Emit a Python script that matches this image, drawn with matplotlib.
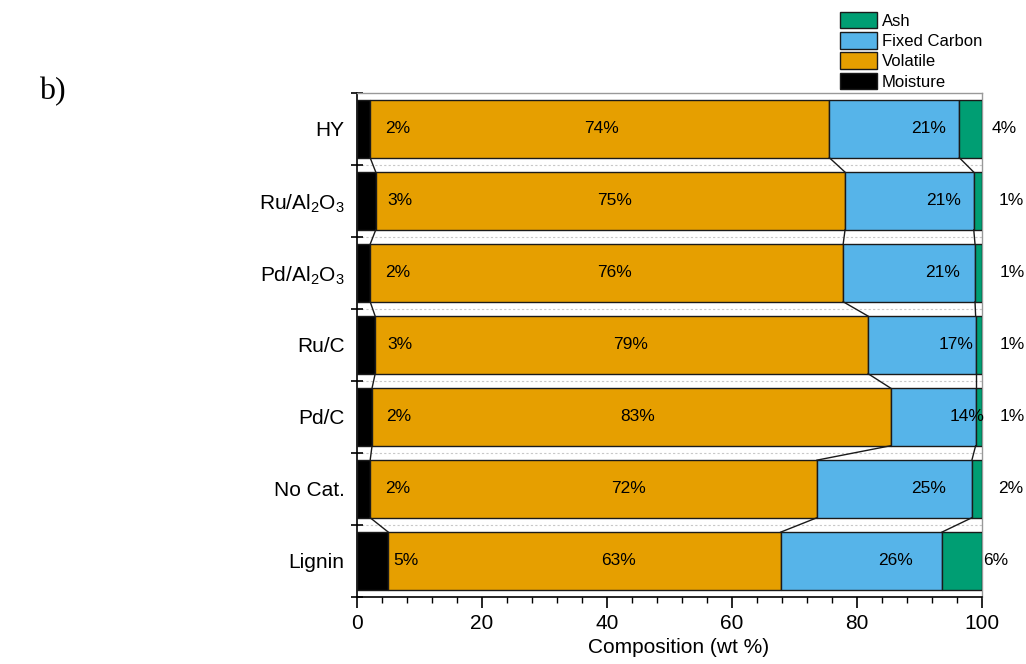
import matplotlib
matplotlib.use("Agg")
import matplotlib.pyplot as plt
import numpy as np
from matplotlib.patches import Patch

plt.rcParams['font.family'] = ['Liberation Sans', 'DejaVu Sans']

# Proximate analysis of the samples (wt %), top row first
samples = ['HY', 'Ru/Al$_\\mathregular{2}$O$_\\mathregular{3}$',
           'Pd/Al$_\\mathregular{2}$O$_\\mathregular{3}$', 'Ru/C', 'Pd/C',
           'No Cat.', 'Lignin']
moisture = [2.1, 3.0, 2.1, 2.9, 2.4, 2.1, 5.0]
volatile = [73.5, 75.1, 75.7, 78.9, 83.0, 71.5, 62.8]
fixed_carbon = [20.8, 20.6, 21.1, 17.2, 13.6, 24.8, 25.8]
ash = [3.6, 1.3, 1.1, 1.0, 1.0, 1.6, 6.4]

components = ['Moisture', 'Volatile', 'Fixed Carbon', 'Ash']
colors = ['#000000', '#E69F00', '#56B4E9', '#009E73']

# horizontal shift of the percentage labels (in wt % units)
label_shift = 5.4
vol_label_shift = [0.2, 0.6, 1.2, 1.4, 1.0, 5.6, 5.5]

data = np.array([moisture, volatile, fixed_carbon, ash])
n = len(samples)
ypos = np.arange(n)[::-1]  # HY at top
bar_h = 0.8

fig = plt.figure(figsize=(10.26, 6.64), dpi=100)
ax = fig.add_axes([0.348, 0.101, 0.609, 0.759])

left = np.zeros(n)
bounds = []
for k in range(4):
    ax.barh(ypos, data[k], left=left, height=bar_h, color=colors[k],
            edgecolor='#1a1a1a', linewidth=1.0, zorder=3)
    for i in range(n):
        if k == 1:
            xc = left[i] + data[k][i] / 2 + vol_label_shift[i]
        else:
            xc = left[i] + data[k][i] / 2 + label_shift
        ax.text(xc, ypos[i], f'{data[k][i]:.0f}%', ha='center', va='center',
                fontsize=12.5, color='black', zorder=5, clip_on=False)
    left = left + data[k]
    if k < 3:
        bounds.append(left.copy())

# connector lines between neighbouring bars at each component boundary
for b in bounds:
    for i in range(n - 1):
        ax.plot([b[i], b[i + 1]],
                [ypos[i] - bar_h / 2, ypos[i + 1] + bar_h / 2],
                color='#1a1a1a', lw=1.0, zorder=4)

ax.set_xlim(0, 100)
ax.set_ylim(-0.5, n - 0.5)

# y axis: ticks between the bars, labels at bar centres
ax.set_yticks(np.arange(-0.5, n, 1.0))
ax.set_yticklabels([])
ax.set_yticks(ypos, labels=samples, minor=True)
ax.tick_params(axis='y', which='major', direction='inout', length=9, width=1.2)
ax.tick_params(axis='y', which='minor', length=0, pad=9, labelsize=15)
for y in np.arange(0.5, n - 1, 1.0):
    ax.axhline(y, color='#c8c8c8', lw=0.8, ls=(0, (2, 2)), zorder=1)

ax.set_xticks(np.arange(0, 101, 20))
ax.set_xticks(np.arange(0, 101, 4), minor=True)
ax.tick_params(axis='x', which='major', direction='out', length=8, width=1.2,
               labelsize=15, pad=4)
ax.tick_params(axis='x', which='minor', direction='out', length=4, width=1.0)
ax.set_xlabel('Composition (wt %)', fontsize=15, labelpad=7)
ax.xaxis.set_label_coords(0.514, -0.082)

for s in ['left', 'bottom']:
    ax.spines[s].set_linewidth(1.2)
    ax.spines[s].set_color('black')
for s in ['top', 'right']:
    ax.spines[s].set_linewidth(1.0)
    ax.spines[s].set_color('#999999')

handles = [Patch(facecolor=colors[k], edgecolor='#1a1a1a', linewidth=1.0)
           for k in range(3, -1, -1)]
labels = [components[k] for k in range(3, -1, -1)]
fig.legend(handles, labels, loc='upper left', bbox_to_anchor=(0.8187, 0.982),
           frameon=False, fontsize=12, handlelength=2.2, handleheight=1.15,
           handletextpad=0.3, labelspacing=0.2, borderaxespad=0,
           borderpad=0)

fig.text(0.038, 0.85, 'b)', fontsize=23, family='Liberation Serif')

fig.savefig('out.png', dpi=100)
